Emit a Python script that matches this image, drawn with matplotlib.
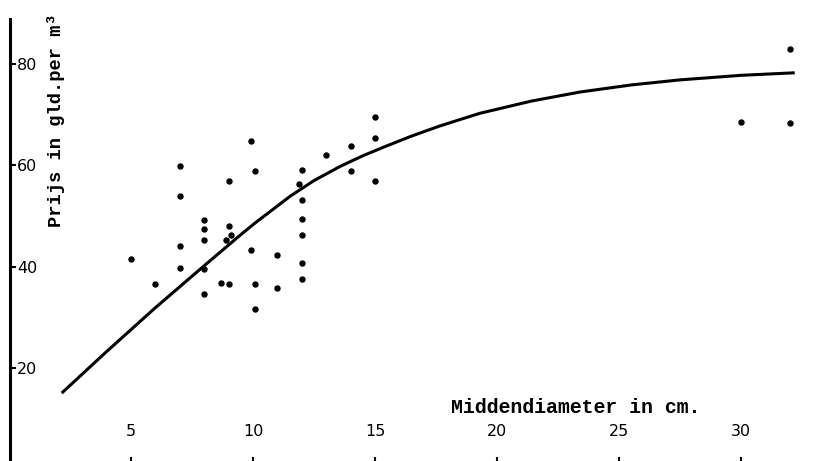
import matplotlib
matplotlib.use("Agg")
import matplotlib.pyplot as plt

# gemeten punten (middendiameter in cm, prijs in gld. per m3)
diameter = [5, 6, 7, 7, 7, 7, 8, 8, 8, 8, 8, 8.7, 9, 9, 9, 8.9, 9.1,
            9.9, 9.9, 10.1, 10.1, 10.1, 11, 11, 12, 11.9, 12, 12, 12, 12, 12,
            13, 14, 14, 15, 15, 15, 30, 32, 32]
prijs = [41.5, 36.6, 59.9, 54.0, 44.1, 39.7, 49.2, 47.4, 45.3, 39.5, 34.5, 36.7, 36.6,
         57.0, 48.0, 45.3, 46.2, 64.9, 43.3, 58.9, 36.6, 31.6, 42.3, 35.7,
         59.1, 56.3, 53.1, 49.5, 46.2, 40.7, 37.6, 62.0, 63.9, 58.8,
         69.6, 65.5, 56.9, 68.6, 83.1, 68.3]

curve_x = [2.16, 3.93, 5.98, 8.03, 9.47, 10.08, 11.52, 12.5, 13.57, 14.5, 15.4,
           16.5, 17.66, 19.3, 21.4, 23.4, 25.5, 27.5, 30.0, 32.2]
curve_y = [15.0, 22.9, 31.8, 40.3, 46.2, 48.6, 53.9, 57.0, 59.8, 61.9, 63.7,
           65.8, 67.8, 70.3, 72.7, 74.5, 75.9, 76.9, 77.8, 78.3]

xticks = [5, 10, 15, 20, 25, 30]
yticks = [20, 40, 60, 80]

fig = plt.figure(figsize=(8.35, 4.61), dpi=100)
ax = fig.add_axes([10/835, 0, 825/835, 442/461])

ax.plot(curve_x, curve_y, c="k", lw=2.2, solid_capstyle="butt",
        solid_joinstyle="round")
ax.plot(diameter, prijs, "o", c="k", ms=3.6)

ax.set_xlim(0.04, 33.85)
ax.set_ylim(1.58, 88.93)

for s in ["top", "right", "bottom"]:
    ax.spines[s].set_visible(False)
ax.spines["left"].set_linewidth(2.2)

ax.set_xticks(xticks)
ax.set_yticks(yticks)
ax.tick_params(axis="x", direction="in", length=3, width=1.5, pad=-27,
               labelsize=11.5)
ax.tick_params(axis="y", direction="in", length=4, width=1.5, pad=-5,
               labelsize=11.5)
for t in ax.get_yticklabels():
    t.set_ha("left")

ax.set_xlabel("Middendiameter in cm.", family="Liberation Mono",
              weight="bold", size=14.3, va="center")
ax.xaxis.set_label_coords(0.686, 0.12)
ax.set_ylabel("Prijs in gld.per m³", family="Liberation Mono",
              weight="bold", size=13.5)
ax.yaxis.set_label_coords(0.0667, 0.771)

plt.savefig("out.png", dpi=100)
